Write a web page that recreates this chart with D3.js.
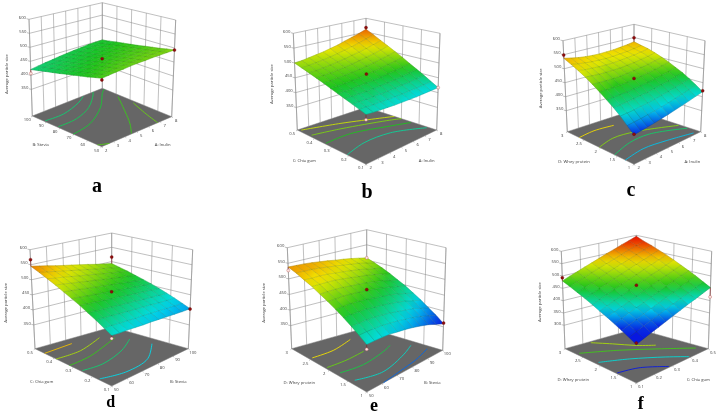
<!DOCTYPE html>
<html>
<head>
<meta charset="utf-8">
<script src="https://cdn.jsdelivr.net/npm/d3@7/dist/d3.min.js"></script>
<style>
  html, body { margin: 0; padding: 0; background: #fff; }
  svg { display: block; filter: blur(0.35px); }
  text { font-family: "Open Sans", sans-serif; fill: #3c3c3c; }
</style>
</head>
<body>
<svg id="chart" width="719" height="414"></svg>
<script>
// predicted particle size, rows go along the left floor axis, columns along the right floor axis
const sizeA = [
  [474,477,480,482,485,487,488,490,491,492,493],
  [469,472,475,477,480,482,483,486,487,488,489],
  [463,466,470,472,475,477,479,481,483,484,484],
  [458,461,464,467,470,472,474,476,478,479,480],
  [453,456,459,462,465,467,469,472,474,475,476],
  [448,451,454,457,460,463,465,467,469,471,471],
  [442,446,449,452,455,458,460,463,465,467,467],
  [437,440,444,447,450,453,455,458,461,462,463],
  [432,435,439,442,446,449,451,454,457,458,459],
  [426,430,434,437,441,444,447,450,452,454,454],
  [421,425,429,432,436,439,442,445,448,449,450]];
const sizeB = [
  [429,426,424,422,420,419,418,417,417,417,417],
  [436,434,432,431,430,429,429,429,429,430,431],
  [443,441,440,440,439,439,440,441,442,444,446],
  [450,449,448,448,448,449,450,452,454,457,460],
  [457,456,456,457,458,459,461,464,467,470,474],
  [464,464,465,466,467,470,472,476,480,484,489],
  [472,472,473,475,477,480,483,487,492,497,503],
  [479,480,481,484,486,490,494,499,504,510,517],
  [486,487,489,492,496,500,505,510,516,523,531],
  [493,495,498,501,505,510,516,522,529,537,546],
  [500,502,506,510,514,520,526,534,542,550,560]];
const sizeC = [
  [374,377,380,383,387,391,396,401,406,412,418],
  [395,397,399,402,405,409,413,418,423,429,435],
  [417,418,419,422,424,427,431,435,440,445,451],
  [436,436,437,439,441,443,447,451,455,460,466],
  [453,452,453,453,455,457,460,463,468,472,478],
  [470,469,468,468,469,471,474,477,481,486,491],
  [486,484,483,482,482,484,486,489,492,497,502],
  [501,498,496,495,495,495,497,499,503,507,512],
  [514,510,508,506,505,505,507,509,512,516,521],
  [526,521,518,515,514,513,514,516,518,522,527],
  [537,532,527,524,522,521,522,523,526,529,534]];
const sizeD = [
  [431,428,426,423,420,418,415,412,409,406,404],
  [444,441,438,435,432,430,427,424,421,418,415],
  [458,455,452,448,445,442,439,436,432,429,426],
  [470,467,463,460,456,453,450,446,443,439,436],
  [483,479,476,472,468,465,461,457,453,450,446],
  [494,490,486,482,478,475,471,467,463,459,455],
  [505,501,497,492,488,484,480,476,471,467,463],
  [516,512,507,503,498,494,489,485,480,476,471],
  [526,521,517,512,507,503,498,493,488,484,479],
  [536,531,526,521,516,511,506,501,496,491,486],
  [545,540,535,529,524,519,514,509,503,498,493]];
const sizeE = [
  [424,423,421,418,412,407,400,392,383,371,360],
  [440,439,437,434,429,424,417,410,401,391,380],
  [455,453,452,449,444,439,432,425,418,407,397],
  [469,468,466,464,458,454,448,442,434,424,415],
  [482,481,480,477,473,467,462,456,449,440,431],
  [494,492,492,489,485,480,476,470,463,455,447],
  [504,503,502,499,495,492,487,481,476,467,460],
  [515,514,513,511,507,503,498,494,488,481,474],
  [523,521,521,519,515,512,508,504,498,492,486],
  [532,531,530,528,524,521,517,513,509,503,497],
  [538,537,536,534,531,528,524,521,517,512,507]];
const sizeF = [
  [355,365,375,384,394,404,414,424,433,443,453],
  [370,380,390,400,410,420,429,439,449,459,469],
  [384,394,404,415,425,435,445,455,466,476,486],
  [398,408,419,429,439,450,460,470,480,491,501],
  [411,422,432,443,453,464,474,485,495,506,516],
  [423,434,445,455,466,477,488,499,509,520,531],
  [436,447,458,469,480,491,501,512,523,534,545],
  [448,459,470,481,492,503,514,525,536,547,558],
  [459,470,481,493,504,515,526,537,549,560,571],
  [470,481,492,504,515,526,537,548,560,571,582],
  [480,492,503,515,526,538,550,561,573,584,596]];

// factor levels on the two floor axes
const inulinTicks = [2,3,4,5,6,7,8];
const steviaTicks = [50,60,70,80,90,100];
const chiaTicks = [0.1,0.2,0.3,0.4,0.5];
const wheyTicks = [1,1.5,2,2.5,3];
const sizeTicks = [350,400,450,500,550,600];
const sizeTicksF = [300,350,400,450,500,550,600];

// floor contours as [right axis value, left axis value], with the size level of each
const levelsA = [478,425,435,450,470,485];
const contoursA = [
  [[2,53],[2.3,51.5],[2.66,50]],
  [[2.1,91.5],[3.6,91],[5.4,95.5],[6.3,99.5]],
  [[2.1,82],[3.7,82.4],[5.4,87.9],[6.9,97.4],[7.2,100]],
  [[2,70.5],[3.8,73.5],[5.9,83.7],[7.6,96.4],[8,98.5]],
  [[4.6,50.4],[5.5,59],[6.6,72],[7.8,87]],
  [[6.8,50],[7.2,61.7],[7.8,76]]];
const levelsB = [510,490,465,435];
const contoursB = [
  [[2.2,.49],[4.9,.44],[7.2,.37],[8,.34]],
  [[2.2,.43],[4.3,.40],[7.2,.33],[8,.3]],
  [[2.1,.34],[4.2,.34],[6.7,.28],[7.9,.24]],
  [[2,.21],[3.9,.24],[6,.23],[7.9,.15]]];
const levelsC = [520,490,445,405];
const contoursC = [
  [[2,2.64],[3.5,2.7],[5.1,2.64]],
  [[2,2.04],[3.6,2.17],[5.4,2.08],[7.9,1.63]],
  [[2,1.58],[3.9,1.77],[5.7,1.78],[7.9,1.37]],
  [[2,1.26],[3.9,1.36],[5.7,1.27],[7.6,1.08]]];
const levelsD = [530,505,480,455,425];
const contoursD = [
  [[50,.45],[69,.46]],
  [[50,.39],[66,.39],[84.5,.44]],
  [[50,.32],[64.5,.33],[80,.37],[89.5,.40]],
  [[51,.26],[63,.25],[80.5,.29],[93,.35]],
  [[51,.17],[65,.14],[81,.16],[95,.25]]];
const levelsE = [520,490,465,430,385];
const contoursE = [
  [[52,2.53],[66.5,2.54],[82,2.72]],
  [[51,2.1],[64,2.09],[76.5,2.15]],
  [[52.5,1.81],[66.5,1.75],[84.5,1.9],[90,1.99]],
  [[53,1.44],[68,1.29],[87,1.5],[96,1.68]],
  [[61,1],[74,1.07],[87,1.16],[97.5,1.31]]];
const levelsF = [510,480,430,385];
const contoursF = [
  [[.235,2.95],[.295,2.64],[.352,2.26],[.406,1.99]],
  [[.116,2.68],[.265,2.31],[.386,1.8],[.479,1.24]],
  [[.116,2.14],[.232,1.86],[.344,1.4],[.402,1.04]],
  [[.105,1.56],[.2,1.43],[.288,1.03]]];

// design points: right axis value, left axis value, size, below the surface or not
const pointsA = [[5,75,463,0],[2,50,469,0],[8,50,493,0],[2,100,407,1]];
const pointsB = [[8,.5,566,0],[5,.3,472,0],[8,.1,417,1],[2,.1,412,1]];
const pointsC = [[2,3,549,0],[8,3,549,0],[5,2,475,0],[8,1,421,0],[2,1,376,0]];
const pointsD = [[50,.5,567,0],[100,.5,516,0],[75,.3,473,0],[100,.1,403,0],[50,.1,421,1]];
const pointsE = [[50,3,527,1],[100,3,507,1],[75,2,484,0],[100,1,362,0],[50,1,409,1]];
const pointsF = [[.1,3,493,0],[.3,2,477,0],[.5,1,415,1],[.1,1,361,0]];

// box corners on the page (floor and top of walls) and label spots, one row per panel
const layouts = [
  { F:[101.7,146.7], R:[171.7,116.7], L:[32.3,116], B:[102.3,88.3],
    tF:[102,39], tR:[175.7,20], tL:[29,19.3], tB:[102.3,2.7], zlo:255, zhi:600,
    leftTitle:[40.7,144], rightTitle:[162.7,144.3], zTitle:[6,74], tag:[97,192], tagSize:20 },
  { F:[366,164.3], R:[436.7,130], L:[297.3,130], B:[366,107.3],
    tF:[366,59.3], tR:[440,33.3], tL:[293.3,33.3], tB:[366,18.3], zlo:274, zhi:600,
    leftTitle:[304.3,160], rightTitle:[426.7,160], zTitle:[271,84], tag:[367,198], tagSize:20 },
  { F:[634,164.3], R:[700.7,131.7], L:[567.3,131.7], B:[634,110],
    tF:[634,67.7], tR:[705,40.7], tL:[563,40.7], tB:[634,24.3], zlo:275, zhi:600,
    leftTitle:[574,161], rightTitle:[692.3,161], zTitle:[540.7,88.3], tag:[631,196], tagSize:20 },
  { F:[111.7,386], R:[188.3,348.7], L:[35,348.7], B:[111.7,327],
    tF:[111.7,282], tR:[192.7,249.7], tL:[30,249.7], tB:[111.7,233], zlo:271, zhi:600,
    leftTitle:[41.7,381], rightTitle:[178.3,381], zTitle:[5.7,302.7], tag:[110.7,407], tagSize:16 },
  { F:[366.7,392], R:[442.7,350.3], L:[291.7,348.7], B:[366.7,327.7],
    tF:[366.7,288], tR:[446,247.7], tL:[287.3,247.7], tB:[366.7,229.7], zlo:276, zhi:600,
    leftTitle:[299.3,382.7], rightTitle:[432.3,382.7], zTitle:[263.3,302.7], tag:[374,411], tagSize:18 },
  { F:[636.3,383], R:[708.3,348.7], L:[565,348.7], B:[636.3,328.7],
    tF:[636.3,281.7], tR:[711.7,251.3], tL:[561.3,251.3], tB:[636.3,235.3], zlo:205, zhi:600,
    leftTitle:[573.3,379], rightTitle:[698.3,379], zTitle:[539,302], tag:[640.7,409], tagSize:18 }
];

const panels = [
  { tag:"a", size:sizeA, xTicks:inulinTicks, yTicks:steviaTicks, zTicks:sizeTicks, levels:levelsA, contours:contoursA, points:pointsA,
    xName:"A: Inulin", yName:"B: Stevia", stops:[320,375,460,530,600] },
  { tag:"b", size:sizeB, xTicks:inulinTicks, yTicks:chiaTicks, zTicks:sizeTicks, levels:levelsB, contours:contoursB, points:pointsB,
    xName:"A: Inulin", yName:"C: Chia gum", stops:[365,415,465,520,585] },
  { tag:"c", size:sizeC, xTicks:inulinTicks, yTicks:wheyTicks, zTicks:sizeTicks, levels:levelsC, contours:contoursC, points:pointsC,
    xName:"A: Inulin", yName:"D: Whey protein", stops:[372,410,465,515,590] },
  { tag:"d", size:sizeD, xTicks:steviaTicks, yTicks:chiaTicks, zTicks:sizeTicks, levels:levelsD, contours:contoursD, points:pointsD,
    xName:"B: Stevia", yName:"C: Chia gum", stops:[360,425,475,520,570] },
  { tag:"e", size:sizeE, xTicks:steviaTicks, yTicks:wheyTicks, zTicks:sizeTicks, levels:levelsE, contours:contoursE, points:pointsE,
    xName:"B: Stevia", yName:"D: Whey protein", stops:[362,420,475,518,570] },
  { tag:"f", size:sizeF, xTicks:chiaTicks, yTicks:wheyTicks, zTicks:sizeTicksF, levels:levelsF, contours:contoursF, points:pointsF,
    xName:"C: Chia gum", yName:"D: Whey protein", stops:[385,425,470,530,590] }
];

const svg = d3.select("#chart");
const defs = svg.append("defs");
const ramp = ["#0818e0", "#00dcec", "#1cc41c", "#f0e800", "#e81000"];
const lineGray = "#8c8c8c";
const smallFont = 4.2;
let gradId = 0;

function mix(a, b, t) { return [a[0] + (b[0] - a[0]) * t, a[1] + (b[1] - a[1]) * t]; }

function drawPanel(p, box) {
  const g = svg.append("g");
  const xs = d3.scaleLinear().domain(d3.extent(p.xTicks)).range([0, 1]);
  const ys = d3.scaleLinear().domain(d3.extent(p.yTicks)).range([0, 1]);
  const zs = d3.scaleLinear().domain([box.zlo, box.zhi]).range([0, 1]);
  const color = d3.scaleLinear().domain(p.stops).range(ramp).clamp(true);

  // u, v, t all in 0-1, blended between the eight box corners
  function project(u, v, t) {
    const floor = mix(mix(box.F, box.R, u), mix(box.L, box.B, u), v);
    const top = mix(mix(box.tF, box.tR, u), mix(box.tL, box.tB, u), v);
    return mix(floor, top, t);
  }
  const at = (x, y, z) => project(xs(x), ys(y), zs(z));
  const seg = (a, b) => g.append("line").attr("x1", a[0]).attr("y1", a[1]).attr("x2", b[0]).attr("y2", b[1])
    .attr("stroke", lineGray).attr("stroke-width", 0.55);

  // walls
  p.xTicks.forEach(x => seg(project(xs(x), 1, 0), project(xs(x), 1, 1)));
  p.yTicks.forEach(y => seg(project(1, ys(y), 0), project(1, ys(y), 1)));
  p.zTicks.forEach(z => {
    seg(project(0, 1, zs(z)), project(1, 1, zs(z)));
    seg(project(1, 1, zs(z)), project(1, 0, zs(z)));
    const a = project(0, 1, zs(z));
    seg(a, [a[0] - 2.5, a[1] - 0.6]);
    g.append("text").attr("x", a[0] - 3).attr("y", a[1] - 0.4)
      .attr("text-anchor", "end").attr("font-size", smallFont).text(z);
  });
  seg(project(0, 1, 0), project(0, 1, 1));
  seg(project(1, 0, 0), project(1, 0, 1));

  // floor
  g.append("path")
    .attr("d", d3.line()([box.F, box.R, box.B, box.L]) + "Z")
    .attr("fill", "#666666").attr("stroke", "#7c7c7c").attr("stroke-width", 0.5);

  const contourLine = d3.line().curve(d3.curveCatmullRom);
  p.contours.forEach((c, i) => {
    g.append("path")
      .attr("d", contourLine(c.map(d => at(d[0], d[1], box.zlo))))
      .attr("fill", "none").attr("stroke", color(p.levels[i])).attr("stroke-width", 0.9);
  });

  // floor ticks
  p.xTicks.forEach(x => {
    const a = at(x, p.yTicks[0], box.zlo);
    seg(a, [a[0] + 1.2, a[1] + 1]);
    g.append("text").attr("x", a[0] + 4.6).attr("y", a[1] + 5)
      .attr("text-anchor", "middle").attr("font-size", smallFont).text(x);
  });
  p.yTicks.forEach(y => {
    const a = at(p.xTicks[0], y, box.zlo);
    seg(a, [a[0] - 1.2, a[1] + 1]);
    g.append("text").attr("x", a[0] - 5).attr("y", a[1] + 5)
      .attr("text-anchor", "middle").attr("font-size", smallFont).text(y);
  });

  // surface cells, back to front
  const n = p.size.length - 1;
  const corner = (i, j) => project(i / n, j / n, zs(p.size[j][i]));
  for (let j = n - 1; j >= 0; j--) {
    for (let i = n - 1; i >= 0; i--) {
      const cell = [[i, j], [i + 1, j], [i + 1, j + 1], [i, j + 1]];
      const lo = d3.least(cell, d => p.size[d[1]][d[0]]);
      const hi = d3.greatest(cell, d => p.size[d[1]][d[0]]);
      const a = corner(lo[0], lo[1]), b = corner(hi[0], hi[1]);
      const id = "cell" + (gradId++);
      const grad = defs.append("linearGradient").attr("id", id).attr("gradientUnits", "userSpaceOnUse")
        .attr("x1", a[0]).attr("y1", a[1]).attr("x2", b[0]).attr("y2", b[1]);
      grad.append("stop").attr("offset", 0).attr("stop-color", color(p.size[lo[1]][lo[0]]));
      grad.append("stop").attr("offset", 1).attr("stop-color", color(p.size[hi[1]][hi[0]]));
      g.append("path")
        .attr("d", d3.line()(cell.map(d => corner(d[0], d[1]))) + "Z")
        .attr("fill", `url(#${id})`).attr("stroke", `url(#${id})`).attr("stroke-width", 0.4);
    }
  }
  // mesh on top of the cells
  const mesh = d3.line();
  d3.range(n + 1).forEach(k => {
    g.append("path").attr("d", mesh(d3.range(n + 1).map(i => corner(i, k))))
      .attr("fill", "none").attr("stroke", "#0c3c10").attr("stroke-opacity", 0.42).attr("stroke-width", 0.35);
    g.append("path").attr("d", mesh(d3.range(n + 1).map(j => corner(k, j))))
      .attr("fill", "none").attr("stroke", "#0c3c10").attr("stroke-opacity", 0.42).attr("stroke-width", 0.35);
  });

  // design points with their stems to the surface
  p.points.forEach(d => {
    const a = at(d[0], d[1], d[2]);
    const i = Math.round(xs(d[0]) * n), j = Math.round(ys(d[1]) * n);
    const s = corner(i, j);
    g.append("line").attr("x1", a[0]).attr("y1", a[1]).attr("x2", s[0]).attr("y2", s[1])
      .attr("stroke", "#8a1010").attr("stroke-width", 0.5);
    g.append("circle").attr("cx", a[0]).attr("cy", a[1]).attr("r", 1.5)
      .attr("fill", d[3] ? "#fbe6e2" : "#8e0c0c")
      .attr("stroke", d[3] ? "#b85050" : "#6c0808").attr("stroke-width", 0.4);
  });

  // titles
  g.append("text").attr("x", box.rightTitle[0]).attr("y", box.rightTitle[1] + 1.5)
    .attr("text-anchor", "middle").attr("font-size", smallFont).text(p.xName);
  g.append("text").attr("x", box.leftTitle[0]).attr("y", box.leftTitle[1] + 1.5)
    .attr("text-anchor", "middle").attr("font-size", smallFont).text(p.yName);
  g.append("text").attr("transform", `translate(${box.zTitle[0] + 1.5},${box.zTitle[1]}) rotate(-90)`)
    .attr("text-anchor", "middle").attr("font-size", smallFont).text("Average particle size");
  g.append("text").attr("x", box.tag[0]).attr("y", box.tag[1])
    .attr("text-anchor", "middle").attr("font-size", box.tagSize).attr("font-weight", "bold")
    .style("font-family", '"Liberation Serif", serif').style("fill", "#000").text(p.tag);
}

panels.forEach((p, i) => drawPanel(p, layouts[i]));
</script>
</body>
</html>
